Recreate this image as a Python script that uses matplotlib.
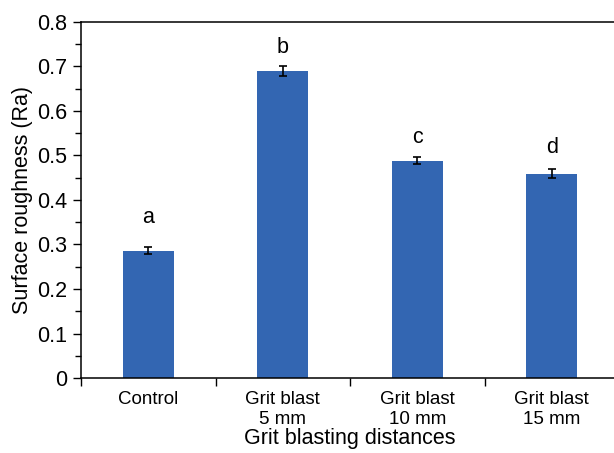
import numpy as np
import matplotlib.pyplot as plt
from matplotlib.ticker import MultipleLocator, FixedLocator

plt.rcParams['font.family'] = ['Liberation Sans', 'DejaVu Sans']

categories = ['Control', 'Grit blast\n5 mm', 'Grit blast\n10 mm', 'Grit blast\n15 mm']
roughness = [0.286, 0.690, 0.488, 0.459]
errors = [0.008, 0.011, 0.008, 0.010]
letters = ['a', 'b', 'c', 'd']
letter_heights = [0.348, 0.730, 0.528, 0.506]

fig = plt.figure(figsize=(6.14, 4.53), dpi=100)
# axes runs slightly past the right edge, as in the reference crop
ax = fig.add_axes([81 / 614, 1 - 378 / 453, 538 / 614, 356 / 453])

x = np.arange(len(categories))
ax.bar(x, roughness, width=0.38, color='#3366B2', zorder=2)
ax.errorbar(x, roughness, yerr=errors, fmt='none', ecolor='black',
            elinewidth=1.2, capsize=3, capthick=1.2, zorder=3)

for xi, h, s in zip(x, letter_heights, letters):
    ax.text(xi, h, s, ha='center', va='baseline', fontsize=15.5)

ax.set_xlim(-0.5, len(categories) - 0.5)
ax.set_ylim(0, 0.8)

ax.set_xticks(x)
ax.set_xticklabels(categories, fontsize=13.5, linespacing=1.25)
ax.xaxis.set_minor_locator(FixedLocator(np.arange(-0.5, len(categories), 1.0)))
ax.tick_params(axis='x', which='major', length=0, pad=9)
ax.tick_params(axis='x', which='minor', length=6, width=1, direction='out')

ax.yaxis.set_major_locator(MultipleLocator(0.1))
ax.yaxis.set_minor_locator(MultipleLocator(0.05))
ax.set_yticklabels(['0' if abs(t) < 1e-9 else f'{t:.1f}' for t in ax.get_yticks()])
ax.tick_params(axis='y', which='major', length=6, width=1, direction='out', labelsize=15.5, pad=4)
ax.tick_params(axis='y', which='minor', length=4, width=1, direction='out')

for sp in ax.spines.values():
    sp.set_linewidth(1.1)

ax.set_xlabel('Grit blasting distances', fontsize=15.5, labelpad=0)
ax.set_ylabel('Surface roughness (Ra)', fontsize=15.5, labelpad=3)

fig.savefig('out.png', dpi=100)
